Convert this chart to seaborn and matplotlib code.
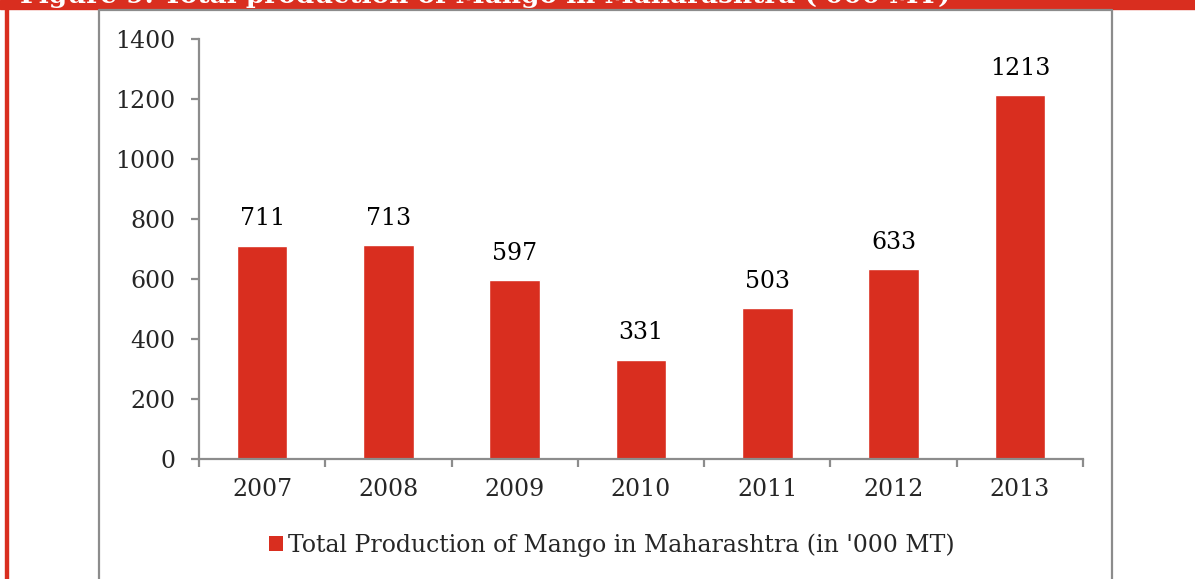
import numpy as np
import pandas as pd
import matplotlib
matplotlib.use("Agg")
import matplotlib.pyplot as plt
import seaborn as sns
from matplotlib.patches import Rectangle, Patch
from matplotlib.lines import Line2D

years = ["2007", "2008", "2009", "2010", "2011", "2012", "2013"]
production = [711, 713, 597, 331, 503, 633, 1213]
series_name = "Total Production of Mango in Maharashtra (in '000 MT)"
title = "Figure 9: Total production of Mango in Maharashtra ('000 MT)"

red = "#D92E1F"
gray = "#8C8C8C"

sns.set_style("white")
plt.rcParams['font.family'] = ['DejaVu Serif']

W, H = 1195, 579
fig = plt.figure(figsize=(W / 100, H / 100), dpi=100)

# frame pieces of the page around the chart
fig.patches.append(Rectangle((0, 1 - 8.5 / H), 1, 8.5 / H, transform=fig.transFigure,
                             color=red, zorder=0))
fig.patches.append(Rectangle((5 / W, 0), 3 / W, 1, transform=fig.transFigure,
                             color=red, zorder=0))
fig.lines.append(Line2D([98.5 / W, 98.5 / W], [0, 1 - 9.5 / H], transform=fig.transFigure,
                        color=gray, lw=1.6))
fig.lines.append(Line2D([1112 / W, 1112 / W], [0, 1 - 9.5 / H], transform=fig.transFigure,
                        color=gray, lw=1.6))
fig.lines.append(Line2D([98.5 / W, 1112 / W], [1 - 9.5 / H, 1 - 9.5 / H], transform=fig.transFigure,
                        color=gray, lw=1.6))
# heading of the page, only its lower edge shows in the crop
fig.text(20 / W, 1 - 2.5 / H, title, color="white", fontsize=19, fontweight="bold",
         ha="left", va="baseline")

ax = fig.add_axes([199 / W, (H - 459) / H, (1083 - 199) / W, (459 - 39) / H])
df = pd.DataFrame({"year": years, "value": production})
sns.barplot(data=df, x="year", y="value", color=red, width=0.4, saturation=1, ax=ax)

ax.set_ylim(0, 1400)
ax.set_yticks(np.arange(0, 1401, 200))
ax.set_xlim(-0.5, len(years) - 0.5)
ax.set_xlabel("")
ax.set_ylabel("")

for s in ["top", "right"]:
    ax.spines[s].set_visible(False)
for s in ["left", "bottom"]:
    ax.spines[s].set_color(gray)
    ax.spines[s].set_linewidth(1.6)

ax.set_xticks(np.arange(-0.5, len(years), 1), minor=True)
ax.tick_params(axis="x", which="major", bottom=True, length=0, pad=14, labelsize=17)
ax.tick_params(axis="x", which="minor", bottom=True, length=6, width=1.6, color=gray,
               direction="out")
ax.tick_params(axis="y", which="major", left=True, length=6, width=1.6, color=gray,
               direction="out", pad=11, labelsize=17)

for p, v in zip(ax.patches, production):
    ax.annotate(f"{v}", (p.get_x() + p.get_width() / 2, p.get_height()),
                xytext=(0, 11), textcoords="offset points",
                ha="center", va="bottom", fontsize=17, color="black")

handle = Patch(facecolor=red, edgecolor="none")
fig.legend([handle], [series_name], loc="center", bbox_to_anchor=(612 / W, 1 - 545 / H),
           frameon=False, fontsize=17, handlelength=0.6, handleheight=0.6,
           handletextpad=0.2)

fig.savefig("out.png", dpi=100)
